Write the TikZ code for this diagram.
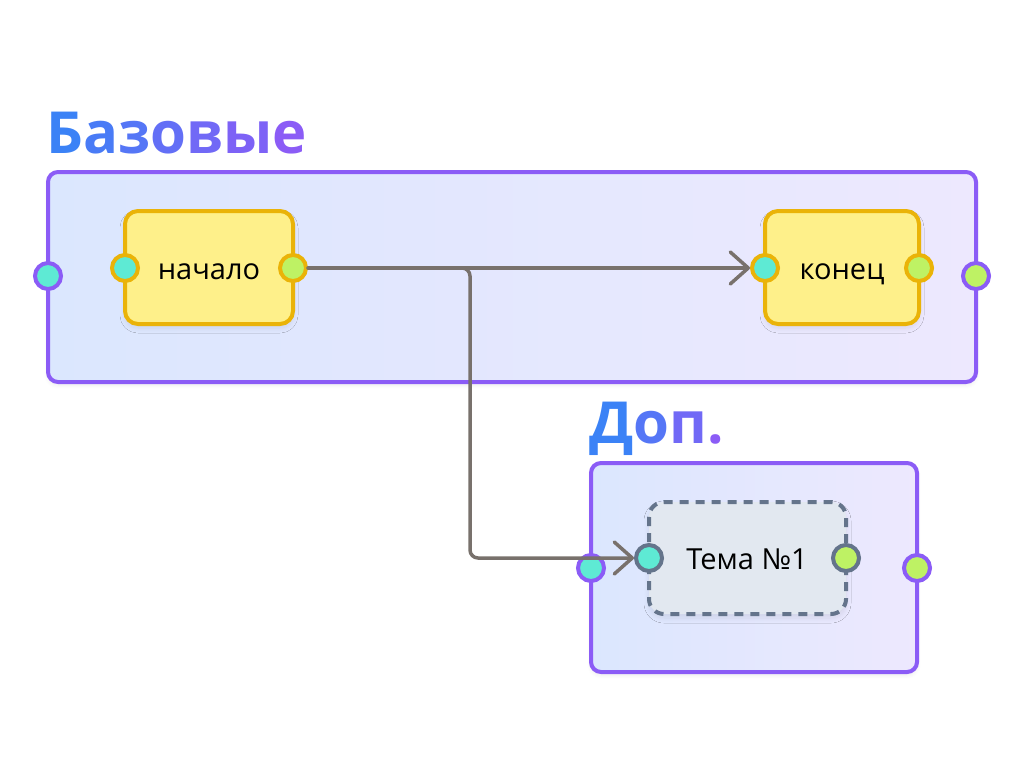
\documentclass[tikz,border=0pt]{standalone}
\usepackage{fontspec}
\setmainfont{Open Sans}
\usetikzlibrary{arrows.meta,shadows.blur,calc}
\definecolor{cpurple}{HTML}{8B5CF6}
\definecolor{cblue}{HTML}{3B82F6}
\definecolor{cfillL}{HTML}{DBE7FE}
\definecolor{cfillR}{HTML}{EDE8FE}
\definecolor{cyfill}{HTML}{FEF08A}
\definecolor{cyline}{HTML}{EAB308}
\definecolor{cteal}{HTML}{5EEAD4}
\definecolor{clime}{HTML}{BEF264}
\definecolor{csfill}{HTML}{E2E8F0}
\definecolor{csline}{HTML}{64748B}
\definecolor{cedge}{HTML}{78716C}
\tikzset{
  container/.style={draw=cpurple, line width=4pt, rounded corners=10pt, left color=cfillL, right color=cfillR,
    blur shadow={shadow blur steps=10, shadow blur radius=4pt, shadow xshift=0pt, shadow yshift=-3pt, shadow opacity=8}},
  ynode/.style={draw=cyline, fill=cyfill, line width=4pt, rounded corners=13pt,
    blur shadow={shadow blur steps=10, shadow blur radius=5pt, shadow xshift=0pt, shadow yshift=-4pt, shadow opacity=9}},
  snode/.style={draw=csline, fill=csfill, line width=4pt, rounded corners=15pt, dash pattern=on 9pt off 7pt,
    blur shadow={shadow blur steps=10, shadow blur radius=5pt, shadow xshift=0pt, shadow yshift=-4pt, shadow opacity=9}},
  port/.style={circle, minimum size=26pt, inner sep=0pt, line width=4pt, draw=#1},
  inport/.style={port=#1, fill=cteal},
  outport/.style={port=#1, fill=clime},
  lbl/.style={font=\fontsize{29}{32}\selectfont, text=black, anchor=base, inner sep=0pt},
  ttl/.style={font=\fontsize{58}{64}\selectfont\bfseries, anchor=base west, inner sep=0pt},
  edge/.style={draw=cedge, line width=3.5pt, line cap=round, line join=round,
    -{Straight Barb[length=18pt, width=32pt, line width=3.5pt, line cap=round, line join=round]}},
}
\begin{document}
\begin{tikzpicture}[x=1pt, y=-1pt]
\useasboundingbox (0,0) rectangle (1024,768);
% containers
\path[container] (48,172) rectangle (976,382);
\path[container] (591,463) rectangle (917,672);
\node[ttl] (t1) at (46,153) {\color{cpurple!0!cblue}Б\color{cpurple!17!cblue}а\color{cpurple!33!cblue}з\color{cpurple!50!cblue}о\color{cpurple!67!cblue}в\color{cpurple!83!cblue}ы\color{cpurple!100!cblue}е};
\node[ttl] (t2) at (589,443) {\color{cpurple!0!cblue}Д\color{cpurple!33!cblue}о\color{cpurple!67!cblue}п\color{cpurple!100!cblue}.};
% container ports
\node[inport=cpurple] (c1l) at (48,276) {};
\node[outport=cpurple] (c1r) at (976,276) {};
\node[inport=cpurple] (c2l) at (591,568) {};
\node[outport=cpurple] (c2r) at (917,568) {};
% nodes
\path[ynode] (125,211) rectangle (293,324);
\node[lbl] (a) at (209,279) {начало};
\path[ynode] (765,211) rectangle (919,324);
\node[lbl] (b) at (842,279) {конец};
\path[snode] (649,502) rectangle (846,614);
\node[lbl] (c) at (747,569) {Тема №1};
% node ports
\node[inport=cyline] (al) at (125,268) {};
\node[outport=cyline] (ar) at (293,268) {};
\node[inport=cyline] (bl) at (765,268) {};
\node[outport=cyline] (br) at (919,268) {};
\node[inport=csline] (cl) at (649,558) {};
\node[outport=csline] (cr) at (846,558) {};
% edges
\coordinate (bend) at (470,268);
\draw[edge] (ar) -- (bl);
\draw[edge, rounded corners=8pt] (ar) -- (bend) |- (cl);
\end{tikzpicture}
\end{document}
